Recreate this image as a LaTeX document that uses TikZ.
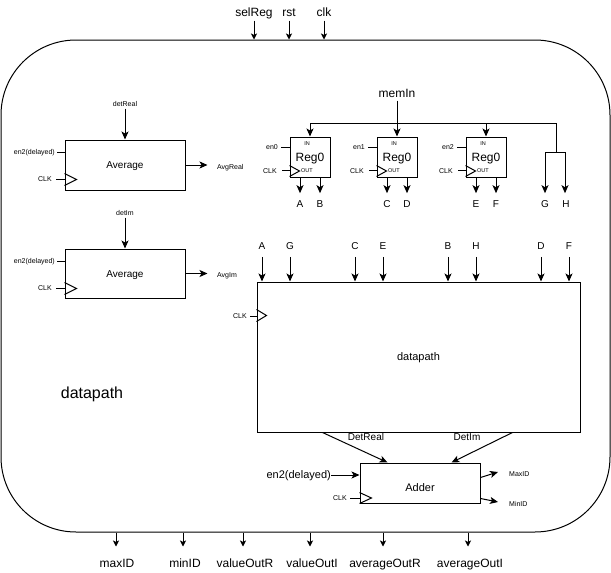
\documentclass[tikz,border=0pt]{standalone}
\usepackage{fontspec}
\setmainfont{Liberation Sans}
\usetikzlibrary{arrows.meta,calc}
\begin{document}
\begin{tikzpicture}[x=1pt,y=-1pt,
  wire/.style={line width=1pt},
  sig/.style={line width=1pt,-{Stealth[length=8pt,width=7pt,inset=2pt]}},
  port/.style={line width=0.9pt,-{Stealth[length=6pt,width=6pt,inset=1.5pt]}},
  blk/.style={draw,line width=1pt,inner sep=0pt},
  t6/.style={font=\fontsize{5.5}{6}\selectfont,inner sep=0pt,text height=4pt,text depth=0pt},
  t7/.style={font=\fontsize{7}{8}\selectfont,inner sep=0pt,text height=5pt,text depth=0pt},
  t10/.style={font=\fontsize{10}{12}\selectfont,inner sep=0pt,text height=7.2pt,text depth=0pt},
  t11/.style={font=\fontsize{11}{13}\selectfont,inner sep=0pt,text height=7.9pt,text depth=0pt},
  t12/.style={font=\fontsize{12}{14}\selectfont,inner sep=0pt,text height=8.6pt,text depth=0pt},
  t16/.style={font=\fontsize{16}{19}\selectfont,inner sep=0pt,text height=11.5pt,text depth=0pt},
  clktri/.style={line width=1pt,line join=miter}
]
\useasboundingbox (0,0) rectangle (611,573);
\fill[white] (0,0) rectangle (611,573);

% enclosing module
\node[blk,rounded corners=75pt,minimum width=609pt,minimum height=492pt] (outer) at (305.5,286) {};
\node[t16] (title) at (92,393) {datapath};

% module ports, top
\node[t12] (selReg) at (254,12) {selReg};
\node[t12] (rst) at (289,12) {rst};
\node[t12] (clk) at (324,12) {clk};
\foreach \p in {selReg,rst,clk}
  \draw[port] ([yshift=-4pt]\p.south) -- (\p.south |- outer.north);

% module ports, bottom
\foreach \n/\x in {maxID/117,minID/185,valueOutR/245,valueOutI/312,averageOutR/385,averageOutI/470}
  \node[t12] (\n) at (\x,563) {\n};
\foreach \n/\x in {maxID/116,minID/183,valueOutR/243,valueOutI/310,averageOutR/383,averageOutI/468}
  \draw[port] (\x,0 |- outer.south) -- ([yshift=12pt]\x,0 |- \n.north);

% averaging units
\node[blk,t10,minimum width=120pt,minimum height=50pt] (avgA) at (125,165) {Average};
\node[t7] (detReal) at (125,104) {detReal};
\draw[sig] ([yshift=-2pt]detReal.south) -- (avgA.north);
\node[t7,anchor=east] (enA) at (55,152) {en2(delayed)};
\draw[wire] ([xshift=2pt]enA.east) -- (enA.east -| avgA.west);
\node[t7,anchor=east] (clkA) at (52,179) {CLK};
\draw[wire] ([xshift=4pt]clkA.east) -- (clkA.east -| avgA.west);
\draw[clktri] ($(avgA.south west)+(0,-17)$) -- ++(12,6) -- ++(-12,6);
\node[t7,anchor=west] (avgReal) at (217,167) {AvgReal};
\draw[sig] (avgA.east) -- ++(22,0);

\node[blk,t10,minimum width=120pt,minimum height=49pt] (avgB) at (125,273.5) {Average};
\node[t7] (detIm) at (125,213) {detIm};
\draw[sig] ([yshift=-2pt]detIm.south) -- (avgB.north);
\node[t7,anchor=east] (enB) at (55,261) {en2(delayed)};
\draw[wire] ([xshift=2pt]enB.east) -- (enB.east -| avgB.west);
\node[t7,anchor=east] (clkB) at (52,288) {CLK};
\draw[wire] ([xshift=4pt]clkB.east) -- (clkB.east -| avgB.west);
\draw[clktri] ($(avgB.south west)+(0,-16)$) -- ++(12,6) -- ++(-12,6);
\node[t7,anchor=west] (avgIm) at (217,275) {AvgIm};
\draw[sig] (avgB.east) -- ++(22,0);

% input registers
\foreach \r/\x/\e/\oa/\ob in {regA/310/en0/A/B,regB/397/en1/C/D,regC/486/en2/E/F}{
  \node[blk,t12,minimum width=40pt,minimum height=40pt] (\r) at (\x,157) {Reg0};
  \node[t6] (\r in) at (\x-3,143) {IN};
  \node[t6] (\r out) at (\x-3,170.5) {OUT};
  \draw[clktri] ($(\r.south west)+(0,-12)$) -- ++(10,5.5) -- ++(-10,5.5);
  \node[t7,anchor=east] (\r en) at (\x-32,147) {\e};
  \draw[wire] ([xshift=3pt]\r en.east) -- (\r en.east -| \r.west);
  \node[t7,anchor=east] (\r clk) at (\x-33,170.5) {CLK};
  \draw[wire] ([xshift=5pt]\r clk.east) -- (\r clk.east -| \r.west);
  \node[t10] (\r qa) at (\x-10,204) {\oa};
  \node[t10] (\r qb) at (\x+10,204) {\ob};
  \draw[sig] (\r.south -| \r qa) -- ([yshift=7pt]\r qa.north);
  \draw[sig] (\r.south -| \r qb) -- ([yshift=7pt]\r qb.north);
}

% memory input bus
\node[t12] (memIn) at (397,93) {memIn};
\draw[sig] ([yshift=-3pt]memIn.south) -- (regB.north);
\coordinate (busL) at (310,123);
\coordinate (busR) at (556,123);
\coordinate (busD) at (556,152);
\coordinate (brG) at (545,152);
\coordinate (brH) at (565,152);
\draw[wire] (busL) -- (busR) -- (busD);
\draw[wire] (brG) -- (brH);
\draw[sig] (busL) -- (regA.north);
\draw[sig] (busL -| regC.north) -- (regC.north);
\node[t10] (outG) at (545,204) {G};
\node[t10] (outH) at (566,204) {H};
\draw[sig] (brG) -- ([yshift=7pt]brG |- outG.north);
\draw[sig] (brH) -- ([yshift=7pt]brH |- outH.north);

% core datapath
\node[blk,t11,minimum width=323pt,minimum height=150pt] (dp) at (418.5,357) {datapath};
\foreach \n/\x in {A/262,G/290,C/355,E/383,B/448,H/476,D/541,F/569}{
  \node[t10] (dpin\n) at (\x,246) {\n};
  \draw[sig] ([yshift=-7pt]dpin\n.south) -- (dpin\n.south |- dp.north);
}
\node[t7,anchor=east] (clkD) at (247,316) {CLK};
\draw[wire] ([xshift=3pt]clkD.east) -- (clkD.east -| dp.west);
\draw[clktri] ($(dp.north west)+(0,28)$) -- ++(10,6) -- ++(-10,6);

% adder
\node[blk,minimum width=120pt,minimum height=40pt] (adder) at (420,483) {};
\node[t11] (adderT) at (420,488) {Adder};
\draw[sig] ($(dp.south west)+(66,0)$) -- ($(adder.north west)+(28,0)$);
\draw[sig] ($(dp.south west)+(256,0)$) -- ($(adder.north west)+(92,0)$);
\node[t10] (detRealL) at (366,437) {DetReal};
\node[t10] (detImL) at (467,437) {DetIm};
\node[t11,anchor=east] (enAdd) at (331,475) {en2(delayed)};
\draw[sig] (enAdd.east) -- (enAdd.east -| adder.west);
\node[t7,anchor=east] (clkAdd) at (347,498) {CLK};
\draw[wire] ([xshift=3pt]clkAdd.east) -- (clkAdd.east -| adder.west);
\draw[clktri] ($(adder.south west)+(0,-11)$) -- ++(12,5.5) -- ++(-12,5.5);
\node[t7,anchor=west] (maxIDa) at (509,474) {MaxID};
\node[t7,anchor=west] (minIDa) at (509,504) {MinID};
\draw[sig] ($(adder.north east)+(0,15)$) -- ($(maxIDa.west)+(-11,-2)$);
\draw[sig] ($(adder.north east)+(0,36)$) -- ($(minIDa.west)+(-11,-2)$);
\end{tikzpicture}
\end{document}
